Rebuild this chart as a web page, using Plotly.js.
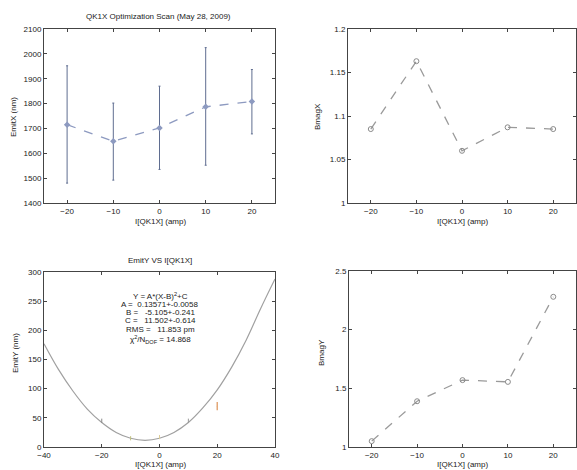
<!DOCTYPE html>
<html>
<head>
<meta charset="utf-8">
<script src="https://cdn.plot.ly/plotly-3.0.1.min.js"></script>
<style>html,body{margin:0;padding:0;background:#fff;}#plot{width:577px;height:470px;}</style>
</head>
<body>
<div id="plot"></div>
<script>
// ---- data ----
var quadCurrent = [-20, -10, 0, 10, 20];
var emitX = [1715, 1648, 1702, 1787, 1808];
var emitXErrPlus = [237, 154, 168, 238, 129];
var emitXErrMinus = [235, 156, 167, 235, 130];
var bmagX = [1.085, 1.163, 1.060, 1.087, 1.085];
var bmagY = [1.05, 1.39, 1.57, 1.555, 2.28];

var fitX = [-40, -35, -30, -25, -20, -15, -10, -5, 0, 5, 10, 15, 20, 25, 30, 35, 40];
var fitY = [177, 133, 96, 65, 42, 25, 15, 11.5, 15, 25, 42, 67, 98, 137, 183, 237, 288];
var emitYPtsX = [-20, -10, 0, 10];
var emitYPts = [45, 15, 17, 45];
var extraX = [20];
var extraY = [70];
var extraErr = [7];

var fitLines = ["Y = A*(X-B)<sup>2</sup>+C", "A =  0.13571+-0.0058", "B =   -5.105+-0.241",
  "C =   11.502+-0.614", "RMS =   11.853 pm", "χ<sup>2</sup>/N<sub>DOF</sub> = 14.868"];

var titleTop = "QK1X Optimization Scan (May 28, 2009)";
var titleBottom = "EmitY VS I[QK1X]";
var xLabel = "I[QK1X] (amp)";

// ---- styling ----
var FONT = "Liberation Sans, Arial, sans-serif";
function ax(extra) {
  var a = {showline: true, linecolor: '#444', linewidth: 1, mirror: 'ticks', ticks: 'inside',
    ticklen: 3, tickcolor: '#444', showgrid: false, zeroline: false,
    tickfont: {family: FONT, size: 8, color: '#222'}, fixedrange: true};
  for (var k in extra) a[k] = extra[k];
  return a;
}
var W = 577, H = 470;
function px(x) { return x / W; }
function py(y) { return 1 - y / H; }

var traces = [
  {x: quadCurrent, y: emitX, xaxis: 'x', yaxis: 'y', type: 'scatter', mode: 'lines+markers',
   line: {color: '#8d9ac0', width: 1.3, dash: 'dash'},
   marker: {symbol: 'diamond', size: 5, color: '#8d9ac0'},
   error_y: {type: 'data', array: emitXErrPlus, arrayminus: emitXErrMinus, visible: true,
     color: '#5f6d90', thickness: 1, width: 1}},
  {x: quadCurrent, y: bmagX, xaxis: 'x2', yaxis: 'y2', type: 'scatter', mode: 'lines+markers',
   line: {color: '#9a9a9a', width: 1.3, dash: 'dash'},
   marker: {symbol: 'circle-open', size: 5, color: '#8a8a8a', line: {width: 1}}},
  {x: fitX, y: fitY, xaxis: 'x3', yaxis: 'y3', type: 'scatter', mode: 'lines',
   line: {color: '#a0a0a0', width: 1.2, shape: 'spline'}},
  {x: emitYPtsX, y: emitYPts, xaxis: 'x3', yaxis: 'y3', type: 'scatter', mode: 'markers',
   marker: {symbol: 'line-ns', size: 3, color: ['#888', '#c0c080', '#dccc98', '#999'], line: {width: 1, color: ['#888', '#c0c080', '#dccc98', '#999']}}},
  {x: extraX, y: extraY, xaxis: 'x3', yaxis: 'y3', type: 'scatter', mode: 'markers',
   marker: {size: 1, color: '#e3a878'},
   error_y: {type: 'data', array: extraErr, visible: true, color: '#e3a878', thickness: 1.5, width: 0}},
  {x: quadCurrent, y: bmagY, xaxis: 'x4', yaxis: 'y4', type: 'scatter', mode: 'lines+markers',
   line: {color: '#9a9a9a', width: 1.3, dash: 'dash'},
   marker: {symbol: 'circle-open', size: 5, color: '#8a8a8a', line: {width: 1}}}
];

var ann = [];
function txt(t, x, y, size, angle) {
  ann.push({text: t, x: px(x), y: py(y), xref: 'paper', yref: 'paper', showarrow: false,
    xanchor: 'center', yanchor: 'middle', textangle: angle || 0,
    font: {family: FONT, size: size || 8, color: '#222'}});
}
txt(titleTop, 158, 16, 8);
txt(titleBottom, 160, 260, 8);
txt(xLabel, 160, 221, 8);
txt(xLabel, 462, 221, 8);
txt(xLabel, 160, 464, 8);
txt(xLabel, 462, 464, 8);
txt("EmitX (nm)", 14, 117, 8, -90);
txt("BmagX", 318, 117, 8, -90);
txt("EmitY (nm)", 15, 353, 8, -90);
txt("BmagY", 321, 353, 8, -90);
var lineY = [296, 304, 312, 320, 329, 339];
for (var i = 0; i < fitLines.length; i++) txt(fitLines[i], 160, lineY[i], 8);

var layout = {
  width: W, height: H, margin: {l: 0, r: 0, t: 0, b: 0}, showlegend: false,
  paper_bgcolor: '#fff', plot_bgcolor: '#fff',
  xaxis: ax({domain: [px(44), px(275)], range: [-25, 25], tickvals: [-20, -10, 0, 10, 20], anchor: 'y'}),
  yaxis: ax({domain: [py(203), py(29)], range: [1400, 2100], dtick: 100, anchor: 'x'}),
  xaxis2: ax({domain: [px(348), px(576)], range: [-25, 25], tickvals: [-20, -10, 0, 10, 20], anchor: 'y2'}),
  yaxis2: ax({domain: [py(203), py(29)], range: [1, 1.2], tickvals: [1, 1.05, 1.1, 1.15, 1.2], anchor: 'x2'}),
  xaxis3: ax({domain: [px(44), px(275)], range: [-40, 40], dtick: 20, anchor: 'y3'}),
  yaxis3: ax({domain: [py(447), py(272)], range: [0, 300], dtick: 50, anchor: 'x3'}),
  xaxis4: ax({domain: [px(349), px(576)], range: [-25, 25], tickvals: [-20, -10, 0, 10, 20], anchor: 'y4'}),
  yaxis4: ax({domain: [py(447), py(271)], range: [1, 2.5], tickvals: [1, 1.5, 2, 2.5], anchor: 'x4'}),
  annotations: ann
};
Plotly.newPlot('plot', traces, layout, {displayModeBar: false, staticPlot: true});
</script>
</body>
</html>
